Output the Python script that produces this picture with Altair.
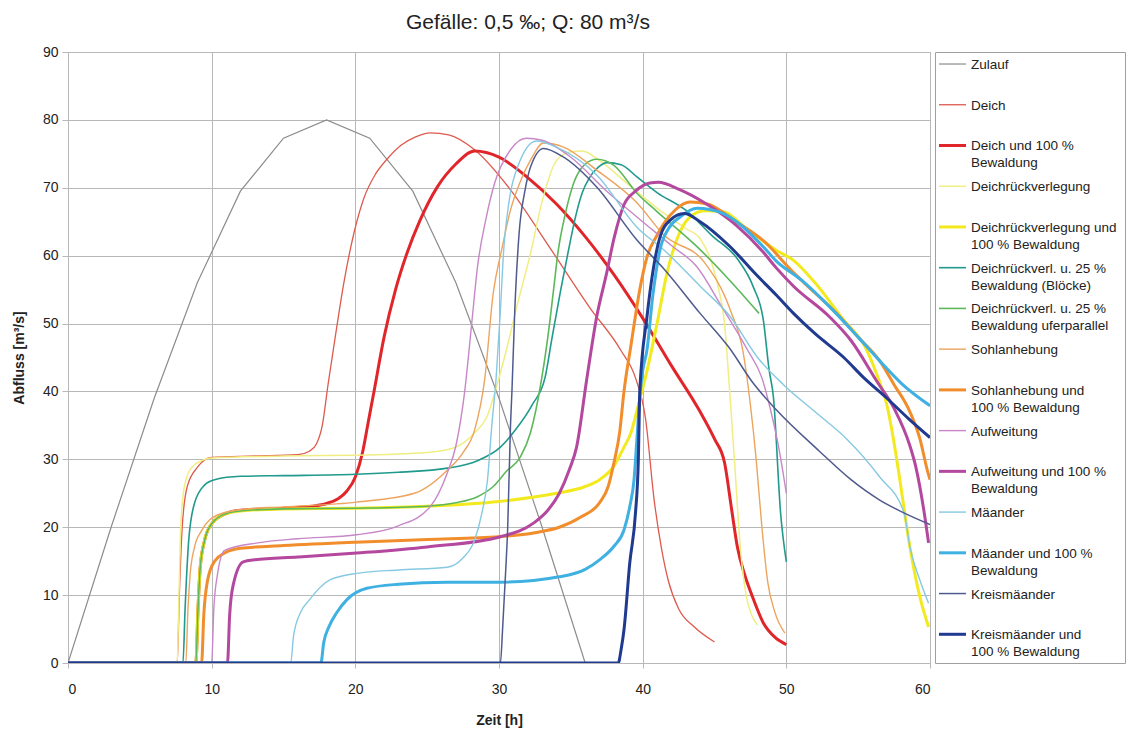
import altair as alt
import pandas as pd

# ---------------- series definitions ----------------
names = [
    "Zulauf", "Deich", "Deich und 100 % Bewaldung", "Deichrückverlegung",
    "Deichrückverlegung und 100 % Bewaldung", "Deichrückverl. u. 25 % Bewaldung (Blöcke)",
    "Deichrückverl. u. 25 % Bewaldung uferparallel", "Sohlanhebung",
    "Sohlanhebung und 100 % Bewaldung", "Aufweitung", "Aufweitung und 100 % Bewaldung",
    "Mäander", "Mäander und 100 % Bewaldung", "Kreismäander",
    "Kreismäander und 100 % Bewaldung",
]
legend_labels = [
    "Zulauf", "Deich", "Deich und 100 %\nBewaldung", "Deichrückverlegung",
    "Deichrückverlegung und\n100 % Bewaldung", "Deichrückverl. u. 25 %\nBewaldung (Blöcke)",
    "Deichrückverl. u. 25 %\nBewaldung uferparallel", "Sohlanhebung",
    "Sohlanhebung und\n100 % Bewaldung", "Aufweitung", "Aufweitung und 100 %\nBewaldung",
    "Mäander", "Mäander und 100 %\nBewaldung", "Kreismäander",
    "Kreismäander und\n100 % Bewaldung",
]
colors = [
    "#8c8c8c", "#de5a4e", "#e0262a", "#f0ee82", "#f2ea1e", "#1f9a8c", "#5cb85a",
    "#eca45e", "#f18d2b", "#c887c8", "#b4489e", "#86c9e2", "#3fb0e2", "#4f5a8e",
    "#1f3a8f",
]
widths = [1.2, 1.3, 3.0, 1.5, 3.0, 1.6, 1.6, 1.4, 3.0, 1.4, 3.0, 1.4, 3.0, 1.5, 3.0]
interp = ["linear"] + ["monotone"] * 14

# ---------------- values (Zeit [h], Abfluss [m³/s]) ----------------
zulauf_t = [0, 3, 6, 9, 12, 15, 18, 21, 24, 27, 30, 33, 36]
zulauf_q = [0, 20, 39, 56, 69.5, 77.3, 80, 77.3, 69.5, 56, 39, 20, 0]

deich_t = [0, 7.6, 7.75, 7.95, 8.3, 9.0, 10, 13, 16, 16.8, 17.3, 17.7, 18.1, 18.6, 19.2, 19.9,
           20.6, 21.4, 22.2, 23.2, 24.2, 25.2, 26.5, 28.3, 30.8, 33.5, 36.3, 38.5, 39.5, 40.2,
           40.8, 41.3, 41.8, 42.5, 43.6, 45]
deich_q = [0, 0, 10, 20, 26, 28.8, 30.3, 30.5, 30.7, 31.2, 32.3, 35, 41, 48, 56, 63.3,
           68.5, 72, 74.2, 76.3, 77.5, 78.1, 77.8, 75.6, 69.7, 61.3, 52.4, 46, 42, 36,
           24, 17, 12, 8, 5.3, 3.1]

deich100_t = [0, 8.9, 9.05, 9.2, 9.5, 10, 11, 12, 15, 17, 18, 18.8, 19.4, 20.0, 20.5, 20.9,
              21.3, 22, 22.8, 23.6, 24.5, 25.7, 27, 28.3, 30, 32, 34, 36, 38,
              40, 42, 44, 45, 45.7, 46.2, 46.6, 47.1, 47.6, 48.4, 49.2, 50]
deich100_q = [0, 0, 8, 14, 18, 20.5, 22, 22.5, 22.8, 23.1, 23.5, 24.2, 25.3, 27.4, 31, 35.5,
              40, 48, 55, 60.4, 65.2, 70.1, 73.5, 75.4, 74.5, 71.5, 67.6, 62.8, 57.2,
              50.8, 43.8, 37, 33, 29.5, 22.5, 17, 13, 10, 5.9, 3.8, 2.7]

drv_t = [0, 7.6, 7.7, 7.85, 8.1, 8.6, 9.3, 10, 15, 20, 25, 27, 28.3, 29.2, 29.8, 30.5, 31.3,
         32.2, 33, 34, 35, 35.8, 37, 39, 41, 43, 44, 44.8, 45.3, 45.7, 46, 46.4, 46.8,
         47.2, 47.6, 48]
drv_q = [0, 0, 8, 20, 26, 28.8, 29.8, 30.2, 30.5, 30.6, 31, 31.8, 33.9, 36.5, 40.5, 46, 53,
         60.4, 68, 74, 75.3, 75.4, 74, 70.5, 67, 64, 62.5, 59, 55, 50, 41.7, 29.5, 17,
         10, 7, 5.6]

drv100_t = [0, 8.9, 9.05, 9.2, 9.5, 10, 11, 12, 15, 20, 25, 30, 34, 36, 37, 38, 38.7, 39.2,
            39.7, 40.3, 41, 41.7, 42.4, 43.2, 44.3, 45.5, 47.5, 49.3, 50.5, 52, 54, 55.5,
            56.3, 57, 57.5, 57.9, 58.6, 59.3, 59.9]
drv100_q = [0, 0, 8, 14, 18, 20.5, 22, 22.4, 22.7, 22.8, 23.1, 23.8, 25, 26, 27, 29, 31.8, 34,
            38, 43, 50, 57.5, 62.5, 65.5, 66.6, 66.5, 63.5, 60.8, 59.3, 56, 50.5, 46.5,
            42.5, 38, 32.4, 27, 17.1, 9.7, 5.3]

bloecke_t = [0, 8.0, 8.15, 8.4, 8.8, 9.5, 10.2, 12, 15, 20, 23, 26.4, 28.5, 30.1, 31.2, 32.3,
             33.2, 33.7, 34.3, 34.8, 35.3, 35.8, 36.3, 36.9, 37.5, 38.5, 39.6, 41, 43,
             44.8, 46.6, 47.7, 48.4, 48.8, 49.1, 49.6, 50]
bloecke_q = [0, 0, 8, 18, 23.5, 26.2, 27, 27.5, 27.6, 27.8, 28.1, 28.7, 29.8, 31.8, 34.5, 38,
             42, 48, 55, 60.4, 65.5, 69.3, 71.5, 73, 73.7, 73.4, 71.6, 69.3, 66.7,
             63, 59.5, 55.4, 50.5, 43.2, 39.2, 22.1, 14.9]

ufer_t = [0, 8.9, 9.05, 9.2, 9.5, 10, 11, 12, 15, 20, 25, 27, 28.5, 29.6, 30.5, 31.5, 32.2,
          32.9, 33.4, 33.8, 34.1, 34.6, 35.2, 36, 36.8, 38, 39.6, 41, 43.8, 46, 48.1]
ufer_q = [0, 0, 8, 14, 18, 20.5, 22, 22.4, 22.7, 22.8, 23.1, 23.6, 24.5, 26, 28.2, 30.4, 34,
          41, 48, 55, 60.4, 66, 70.7, 73.5, 74.2, 73.3, 69.2, 66.5, 61.3, 56.5, 51.5]

sohl_t = [0, 8.2, 8.35, 8.5, 8.8, 9.3, 10.4, 12, 15, 20.1, 24.1, 26.4, 27.5, 28.3, 29, 29.6,
          30.2, 30.8, 31.5, 32.2, 33.1, 34.5, 36.8, 39.6, 41.5, 44.3, 46.1, 47, 47.5,
          47.9, 48.3, 48.7, 49.2, 49.9]
sohl_q = [0, 0, 8, 13, 17, 19.5, 21.8, 22.6, 23, 23.7, 25, 28.4, 31, 34.3, 41.7, 54.5,
          61, 66.7, 71, 74.1, 76.6, 76, 72.6, 67.8, 63, 59, 52, 45.7, 38,
          30, 20, 12, 7.5, 4.4]

sohl100_t = [0, 9.3, 9.45, 9.7, 10.2, 10.9, 12, 15, 20, 25, 30, 32.5, 34.2, 35.7, 37, 37.6,
             38, 38.4, 38.7, 39.2, 39.8, 40.3, 41, 41.5, 42.3, 43.3, 44.5, 46.5, 48.4, 50.5,
             52, 53.5, 55, 56.5, 57.5, 58.6, 59.3, 59.8, 60]
sohl100_q = [0, 0, 7, 12, 15, 16.2, 16.9, 17.3, 17.8, 18.2, 18.6, 19.2, 20, 21.5, 23.6, 26,
             29.5, 34, 40, 47, 55, 59.8, 63, 64.8, 66.8, 67.9, 67.6, 65, 62.2, 57.5,
             54.5, 51.5, 48, 44.5, 41, 37, 33, 28.5, 27]

aufw_t = [0, 10.0, 10.15, 10.4, 10.9, 13.2, 16, 20.1, 23, 25.2, 26.4, 27, 27.6, 28.1, 28.5,
          29.1, 29.7, 30.8, 31.9, 33, 35, 37.5, 39.6, 42, 43.8, 45.5, 47.3, 48.3, 48.9,
          49.5, 50]
aufw_q = [0, 0, 8, 13, 16.6, 17.7, 18.3, 18.9, 20.2, 23, 28, 32, 39.8, 50, 58.3,
          65.5, 70.7, 75.6, 77.3, 77, 74.5, 69.5, 65.7, 61.5, 58.3, 52.5, 46.1, 42, 37.3,
          31.4, 25]

aufw100_t = [0, 11.1, 11.25, 11.5, 12.2, 13, 16, 20.1, 25, 30.1, 32.4, 33.4, 34.2, 34.9,
             35.4, 36.1, 36.8, 37.5, 38, 38.7, 39.5, 40.5, 41.1, 42.5, 44.3, 46.5, 48.4,
             49.3, 50.5, 53, 54.5, 56.3, 57.5, 58.6, 59, 59.6, 59.9]
aufw100_q = [0, 0, 7, 11.5, 14.9, 15.2, 15.6, 16.2, 17.1, 18.6, 20.6, 22.5, 25, 28.5,
             31.8, 41.7, 51, 57.5, 62.5, 67.5, 69.5, 70.7, 70.8, 69.8, 67.8, 64.5, 60.5,
             58.2, 55.5, 51, 47.5, 41.5, 37.5, 32, 29, 22.1, 17.7]

maeander_t = [0, 15.5, 15.7, 16.2, 16.8, 18.2, 20.1, 23, 26.4, 27.5, 28.3, 28.8, 29.2, 29.5,
              29.8, 30.1, 30.3, 30.7, 31.3, 32.6, 34, 36.8, 39.6, 41.5, 44, 46.1, 48, 49.8,
              52, 54.2, 56.5, 58.2, 58.6, 59.3, 59.9]
maeander_q = [0, 0, 4, 7.5, 9.3, 12.2, 13.2, 13.7, 14.1, 15.5, 18.1, 22, 27, 35,
              42, 52, 60, 68, 73.1, 76.9, 76, 71.9, 64.2, 60.8, 55.5, 51, 45, 41,
              37, 33, 27.4, 22.1, 17.1, 12.2, 8.8]

maeander100_t = [0, 17.6, 17.8, 18.2, 18.7, 19.4, 20.8, 23, 26.4, 30.1, 34.2, 36, 37, 38,
                 38.7, 39.1, 39.4, 39.6, 39.8, 40.0, 40.3, 40.7, 41.2, 41.8, 42.6, 43.8,
                 45.5, 48.4, 49.3, 51, 53, 55, 56.5, 58, 60]
maeander100_q = [0, 0, 3, 5.5, 7.4, 9.3, 11, 11.6, 11.9, 11.9, 12.7, 13.8, 15.2, 17.2,
                 19.6, 23, 27, 33, 39.2, 43, 46.1, 54, 60.8, 64, 65.7, 67,
                 66.3, 61.3, 59.2, 56.5, 52.5, 48, 44.5, 41.2, 37.9]

kreis_t = [0, 30.1, 30.25, 30.5, 30.6, 30.8, 30.9, 31.1, 31.4, 31.8, 32.2, 33.1, 34.5, 36.8,
           39.6, 41.5, 44, 46, 47.7, 49.3, 52.3, 54.5, 56.5, 58, 60]
kreis_q = [0, 0, 5, 15, 19.6, 35, 40, 52, 63.3, 69.5, 73.1, 75.8, 74.5, 70.1,
           62.3, 58, 51.5, 46.5, 41.2, 37.3, 31.2, 27, 24, 22.3, 20.4]

kreis100_t = [0, 38.3, 38.5, 38.7, 39.1, 39.5, 39.7, 39.8, 40.3, 40.7, 41.2, 41.9, 42.9, 44,
              46, 48, 49.3, 50.5, 52, 54, 55.4, 57, 58.5, 60]
kreis100_q = [0, 0, 2, 4.9, 14.7, 22.1, 30, 40, 51, 57.5, 62.7, 65.2, 66.2, 65,
              61.5, 57, 54.2, 51.5, 48.5, 45, 42, 39, 36, 33.2]

series_t = [zulauf_t, deich_t, deich100_t, drv_t, drv100_t, bloecke_t, ufer_t, sohl_t,
            sohl100_t, aufw_t, aufw100_t, maeander_t, maeander100_t, kreis_t, kreis100_t]
series_q = [zulauf_q, deich_q, deich100_q, drv_q, drv100_q, bloecke_q, ufer_q, sohl_q,
            sohl100_q, aufw_q, aufw100_q, maeander_q, maeander100_q, kreis_q, kreis100_q]

x_ticks = [0, 10, 20, 30, 40, 50, 60]
y_ticks = [0, 10, 20, 30, 40, 50, 60, 70, 80, 90]

FONT = "Liberation Sans"
GRID = "#b8b8b8"

x_scale = alt.Scale(domain=[0, 60], nice=False, zero=False)
y_scale = alt.Scale(domain=[0, 90], nice=False)

x_axis = alt.Axis(values=x_ticks, title="Zeit [h]", grid=True, gridColor=GRID,
                  domain=False, tickColor=GRID, tickSize=5, labelPadding=14,
                  labelFontSize=14, labelFont=FONT, labelColor="#222222",
                  titleFont=FONT, titleFontSize=14, titleFontWeight="bold",
                  titleColor="#222222", titlePadding=17)
y_axis = alt.Axis(values=y_ticks, title="Abfluss [m³/s]", grid=True, gridColor=GRID,
                  domain=False, tickColor=GRID, tickSize=6, labelPadding=4,
                  labelFontSize=14, labelFont=FONT, labelColor="#222222",
                  titleFont=FONT, titleFontSize=14, titleFontWeight="bold",
                  titleColor="#222222", titlePadding=16)

layers = []
for i, name in enumerate(names):
    df = pd.DataFrame({"t": series_t[i], "q": series_q[i], "s": name})
    layers.append(
        alt.Chart(df).mark_line(color=colors[i], strokeWidth=widths[i],
                                interpolate=interp[i], clip=True).encode(
            x=alt.X("t:Q", scale=x_scale, axis=x_axis),
            y=alt.Y("q:Q", scale=y_scale, axis=y_axis),
        )
    )

main = alt.layer(*layers).properties(width=862, height=611)

# ---------------- legend panel ----------------
leg_df = pd.DataFrame({
    "idx": list(range(len(names))),
    "label": legend_labels,
    "c": colors,
    "w": widths,
})
leg_y = alt.Y("idx:Q", scale=alt.Scale(domain=[-0.295, 14.705], reverse=True, nice=False,
                                       zero=False), axis=None)
leg_lines = alt.Chart(leg_df).mark_rule().encode(
    x=alt.value(4), x2=alt.value(31), y=leg_y,
    color=alt.Color("c:N", scale=None),
    strokeWidth=alt.StrokeWidth("w:Q", scale=None),
)
leg_text = alt.Chart(leg_df).mark_text(
    align="left", baseline="alphabetic", dy=5, lineBreak="\n", lineHeight=17,
    fontSize=13.5, font=FONT, color="#222222"
).encode(x=alt.value(36), y=leg_y, text="label:N")
legend_panel = alt.layer(leg_lines, leg_text).properties(width=190, height=611)

chart = alt.hconcat(main, legend_panel, spacing=5, bounds="flush").properties(
    title=alt.Title("Gefälle: 0,5 ‰; Q: 80 m³/s", font=FONT, fontSize=21,
                    fontWeight="normal", color="#222222", anchor="start",
                    align="center", dx=516, offset=12),
    padding={"left": 3, "top": 3, "right": 0, "bottom": 0},
).configure_view(stroke="#a0a0a0", strokeWidth=1)

chart.save("out.html", embed_options={"renderer": "svg", "actions": False})
